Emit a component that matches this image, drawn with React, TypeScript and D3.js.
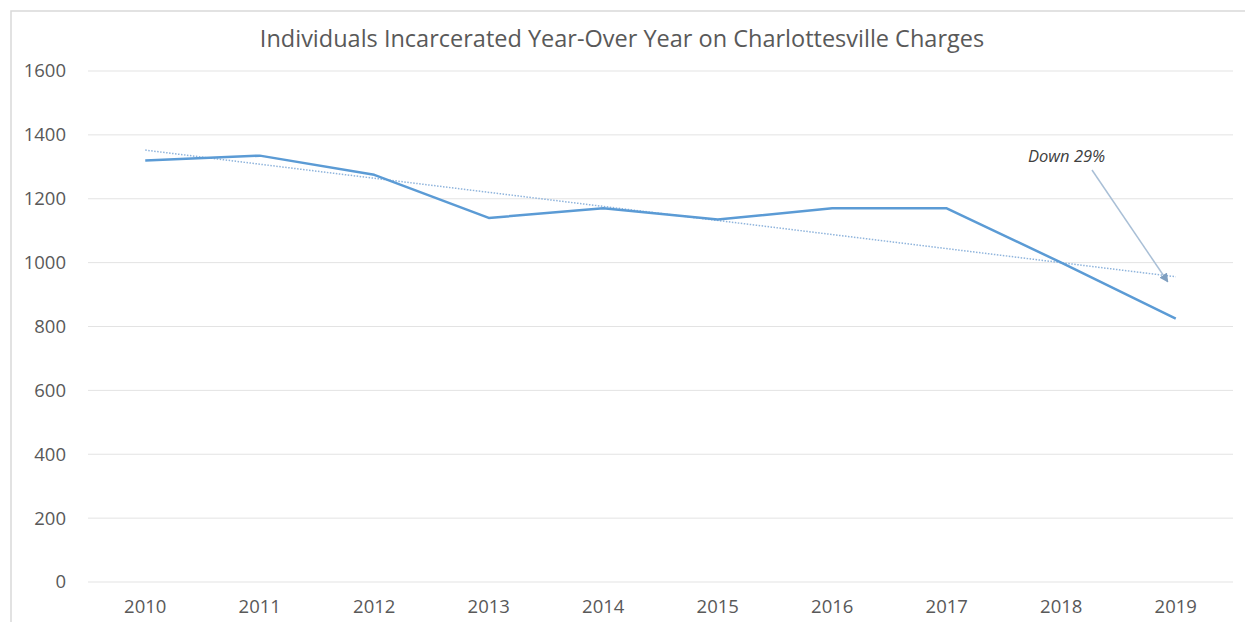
import React from "react";
import * as d3 from "d3";

const years = ["2010", "2011", "2012", "2013", "2014", "2015", "2016", "2017", "2018", "2019"];
const incarcerated = [1320, 1335, 1275, 1140, 1170, 1135, 1170, 1170, 1000, 825];
const yTicks = [0, 200, 400, 600, 800, 1000, 1200, 1400, 1600];
const title = "Individuals Incarcerated Year-Over Year on Charlottesville Charges";
const annotation = "Down 29%";

export default function App() {
  const W = 1245, H = 622;
  const left = 88, right = 1233, top = 71, bottom = 582;
  const x = d3.scaleBand<string>().domain(years).range([left, right]);
  const cx = (i: number) => (x(years[i]) as number) + x.bandwidth() / 2;
  const y = d3.scaleLinear().domain([0, 1600]).range([bottom, top]);

  // linear trendline (least squares, as the spreadsheet does)
  const n = incarcerated.length;
  const mx = d3.mean(d3.range(n)) as number;
  const my = d3.mean(incarcerated) as number;
  const sxy = d3.sum(d3.range(n), (i) => (i - mx) * (incarcerated[i] - my));
  const sxx = d3.sum(d3.range(n), (i) => (i - mx) * (i - mx));
  const slope = sxy / sxx;
  const b = my - slope * mx;
  const trend = (i: number) => b + slope * i;

  const line = d3
    .line<number>()
    .x((_, i) => cx(i))
    .y((d) => y(d));

  const font = "'Open Sans', sans-serif";
  const endTrend: [number, number] = [cx(9) - 8, y(trend(9)) + 5];

  return (
    <svg width={W} height={H} style={{ position: "absolute", left: 0, top: 0, background: "#fff" }}>
      <rect x={11} y={11} width={W} height={H} fill="#fff" stroke="#d9d9d9" strokeWidth={1.5} />
      <defs>
        <marker id="arr" viewBox="0 0 10 10" refX="9" refY="5" markerWidth="6" markerHeight="6" orient="auto">
          <path d="M0,0 L10,5 L0,10 z" fill="#7f9fc0" />
        </marker>
      </defs>
      <text x={622} y={47} textAnchor="middle" fontFamily={font} fontSize={23.5} fill="#595959">
        {title}
      </text>
      {yTicks.map((t) => (
        <g key={t}>
          <line x1={left} x2={right} y1={y(t)} y2={y(t)} stroke="#e3e3e3" strokeWidth={1} />
          <text x={66} y={y(t)} dy="0.35em" textAnchor="end" fontFamily={font} fontSize={18.5} fill="#595959">
            {t}
          </text>
        </g>
      ))}
      {years.map((yr, i) => (
        <text key={yr} x={cx(i)} y={613} textAnchor="middle" fontFamily={font} fontSize={18.5} fill="#595959">
          {yr}
        </text>
      ))}
      <line
        x1={cx(0)}
        x2={cx(9)}
        y1={y(trend(0))}
        y2={y(trend(9))}
        stroke="#8fb4dc"
        strokeWidth={1.5}
        strokeDasharray="1.5 1.5"
      />
      <path d={line(incarcerated) || ""} fill="none" stroke="#5b9bd5" strokeWidth={2.5} strokeLinejoin="round" />
      <text x={1028} y={162} fontFamily={font} fontSize={16.5} fontStyle="italic" fill="#404040">
        {annotation}
      </text>
      <line x1={1092} y1={170} x2={endTrend[0]} y2={endTrend[1]} stroke="#a9bfd6" strokeWidth={1.5} markerEnd="url(#arr)" />
    </svg>
  );
}
